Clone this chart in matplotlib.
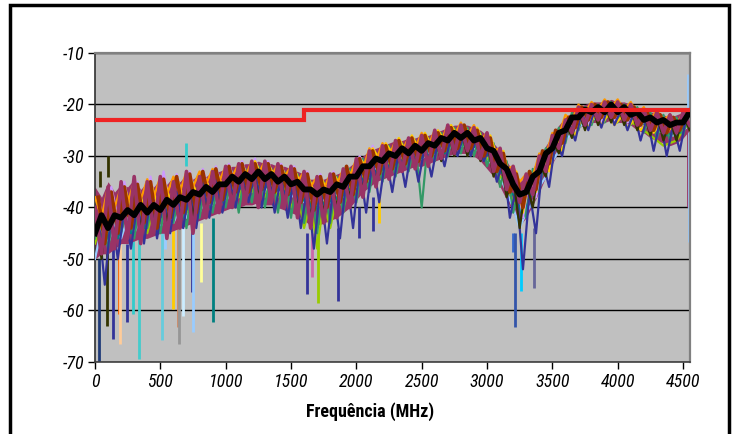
import numpy as np
import matplotlib
matplotlib.use('Agg')
import matplotlib.pyplot as plt
from matplotlib.patches import Rectangle

plt.rcParams['axes.unicode_minus'] = False
plt.rcParams['font.family'] = ['Roboto Condensed', 'Roboto', 'Liberation Sans', 'DejaVu Sans']

# ---------------- data (dB vs MHz) ----------------
freq_a = np.arange(0, 4551, 50)     # 92 samples
freq_b = np.arange(25, 4526, 50)    # 91 samples

mean_db = [
    -45, -41.5, -44, -41.5, -42, -40.5, -41.5, -39.5, -41, -39.5,
    -40.5, -38.5, -39.5, -38, -38.5, -37, -37.5, -36, -37, -35.5,
    -35.5, -34, -35, -33.5, -34.5, -33, -34.5, -33.5, -35, -34,
    -35.5, -35, -36.5, -36.5, -37.5, -36.5, -37, -35.5, -36, -34,
    -34, -32, -32, -30.5, -31, -29.5, -30, -28.5, -29.5, -28,
    -29, -27.5, -28, -26.5, -27, -25.5, -26.5, -25.5, -27, -26.5,
    -28.5, -29, -31.5, -32.5, -35.5, -37.5, -37, -34, -33, -29.5,
    -28.5, -25.5, -25, -22.5, -22.5, -21, -21.5, -20.5, -21.5, -20,
    -21.5, -20.5, -22, -21.5, -23, -22.5, -23.5, -23, -24, -23.5,
    -23.5, -21.5]

# dense core of the overlapping traces (upper / lower edge)
band_top_db = [
    -36, -38, -35, -37, -35.5, -36, -34.5, -36.5, -35, -36,
    -34.5, -35.5, -34, -35, -33.5, -34.5, -33.5, -34, -33, -33,
    -32.5, -32, -32, -31.5, -31.5, -31, -31.5, -31.5, -32, -32,
    -32.5, -33, -33.5, -34.5, -34.5, -34.5, -34, -33.5, -33, -32,
    -31, -30, -29, -28.5, -28, -27.5, -27, -27, -26.5, -26.5,
    -26, -26, -25.5, -25, -24.5, -24, -24, -24, -24.5, -25,
    -26, -27.5, -29, -31, -33, -35, -34, -32.5, -30, -28,
    -26, -24, -22.5, -21.5, -20.5, -20, -19.5, -19.5, -19.5, -19,
    -19.5, -19.5, -20, -20.5, -21, -21.5, -21.5, -22, -22.5, -22,
    -21.5, -20.5]

band_bot_db = [
    -50, -49, -49, -48, -47, -47, -46.5, -46, -46, -45.5,
    -45, -45, -44.5, -44, -43.5, -43, -42.5, -42, -41.5, -41,
    -40.5, -40, -40, -39.5, -39.5, -39, -39.5, -39.5, -40, -40.5,
    -41, -41.5, -42.5, -43.5, -43.5, -43, -42.5, -42, -41, -40,
    -38.5, -37, -36, -35, -34.5, -34, -33.5, -33, -32.5, -32,
    -32, -31.5, -31, -30.5, -30, -29.5, -29.5, -29.5, -30, -31,
    -32.5, -34, -36, -38.5, -41, -43.5, -42, -39.5, -37, -34,
    -31.5, -29, -27, -25.5, -24.5, -24, -23.5, -23.5, -23.5, -23,
    -23.5, -23.5, -24, -25, -25.5, -26.5, -27, -27.5, -28, -27.5,
    -26.5, -25]

magenta_db = [
    -40, -49, -36, -48, -35, -46, -34, -47, -35, -45,
    -34, -46, -35, -44, -33, -45, -34, -42, -33, -41,
    -32, -40, -31.5, -39, -31, -40, -31, -39, -31.5, -40,
    -32, -42, -33, -44, -34, -43, -33.5, -42, -32.5, -40,
    -30.5, -38, -29, -36, -28, -34.5, -27, -33, -26.5, -32.5,
    -26, -32, -25, -30.5, -24, -29.5, -24, -29, -24.5, -30.5,
    -25.5, -33, -28.5, -36.5, -32, -39, -33.5, -37.5, -30, -33,
    -26, -28.5, -23, -25.5, -20.5, -24, -20, -23, -19.5, -22.5,
    -19.5, -23, -20, -24, -21, -25, -21.5, -25.5, -22, -25.5,
    -21.5, -24]

brown_db = [
    -38, -47, -37, -45, -36, -44, -35.5, -43, -35, -44,
    -34.5, -42, -34, -41, -33.5, -41, -33, -39, -32.5, -38.5,
    -32, -37, -31.5, -37, -31.5, -36.5, -31.5, -37, -32, -37.5,
    -32.5, -39, -33.5, -40.5, -34, -40, -33.5, -39, -32, -37.5,
    -30.5, -35, -29, -33.5, -28, -32.5, -27, -31.5, -26.5, -31,
    -26, -30, -25.5, -29, -24.5, -28.5, -24, -28.5, -25, -30,
    -26.5, -33, -29.5, -37, -33.5, -40, -33, -36.5, -29, -31.5,
    -25, -27.5, -22.5, -24.5, -20.5, -23, -20, -22.5, -19.5, -22.5,
    -20, -23, -20.5, -24, -21.5, -25, -22, -25.5, -22.5, -25,
    -21.5]

olive_db = [
    -40, -50, -38, -47, -37, -45, -37, -44, -36, -45,
    -36, -43, -36, -44, -34, -42, -34, -41, -33, -40,
    -32.5, -39, -32, -38, -31.5, -38, -32, -39, -32, -39,
    -33, -40, -34, -42, -35, -41, -34, -40, -33, -38,
    -31.5, -36.5, -30, -35, -28.5, -34, -28, -33, -27, -32,
    -27, -31.5, -26, -31, -25, -30, -24.5, -30, -25, -31,
    -27, -34, -30, -38, -34, -44, -35, -40, -31.5, -34,
    -27, -29.5, -23.5, -26.5, -21, -25, -20, -24, -20, -23.5,
    -20, -24, -20.5, -25, -21.5, -26, -22, -27, -23, -27,
    -22, -25]

navy_db = [
    -42, -55, -41, -50, -40, -48, -39, -47, -38, -46,
    -38, -45, -37, -44, -36, -44, -35, -42, -34.5, -41,
    -34, -40, -33.5, -39, -33, -40, -33, -41, -34, -42,
    -34, -44, -36, -48, -36, -47, -36, -46, -34, -44,
    -32, -41, -30.5, -39, -30, -37, -29, -36, -28, -35,
    -28, -34, -27, -32, -26, -30, -25.5, -30, -26, -31,
    -28, -35, -31, -42, -36, -52, -37, -45, -31, -36,
    -27, -30, -23.5, -27, -21.5, -25, -21, -24.5, -20.5, -24,
    -21, -25, -21.5, -27, -22.5, -29, -23, -30, -24, -29,
    -22.5]

seagreen_db = [
    -46, -41, -48, -40, -45, -39, -46, -38, -44, -38,
    -45, -37, -43, -36.5, -44, -35, -42, -34.5, -41, -34,
    -40, -33, -41, -32.5, -39, -32, -40, -32.5, -41, -33,
    -42, -33.5, -43, -35, -45, -35, -43, -34, -41, -32.5,
    -39, -30.5, -37, -29.5, -35, -28, -34, -27.5, -33, -27,
    -40, -26.5, -31, -25.5, -30, -24.5, -29.5, -24.5, -30, -25.5,
    -32, -27.5, -36, -31, -41, -36, -42, -32.5, -37, -28.5,
    -31, -24.5, -27.5, -21.5, -25, -20.5, -24, -20, -23.5, -19.5,
    -23.5, -20, -24, -20.5, -25.5, -21.5, -26.5, -22, -27, -22.5,
    -26, -21]

lavender_db = [
    -38, -44, -36, -42, -35, -42, -35, -41, -34, -41,
    -33, -40, -33.5, -39, -33, -38, -32.5, -37, -32, -36.5,
    -31.5, -35.5, -31, -35, -30.5, -35, -31, -35, -31.5, -36,
    -32, -37, -33, -38, -33.5, -38, -33, -37, -32, -35,
    -30, -33, -28, -32, -27.5, -31, -27, -30, -26.5, -30,
    -26, -29, -25, -28, -24.5, -27, -24.5, -27.5, -25, -28.5,
    -26.5, -31.5, -29.5, -36, -33.5, -42, -34, -38, -29.5, -33,
    -25.5, -28, -22.5, -25, -21, -24, -20.5, -23.5, -20.5, -23,
    -20.5, -23.5, -21, -24.5, -21.5, -25, -22.5, -25.5, -23, -25,
    -22]

orange_db = [
    -38, -42, -36, -40, -36, -39, -35, -38.5, -34.5, -38,
    -34, -37.5, -34, -37, -33, -36, -33, -35.5, -32.5, -35,
    -32, -34, -31.5, -34, -31, -33.5, -31, -34, -31.5, -34,
    -32, -35, -33, -36, -34, -36.5, -33.5, -35.5, -32.5, -34,
    -30.5, -32.5, -28.5, -31, -27.5, -30, -27, -29, -26.5, -28.5,
    -25.5, -28, -25, -27, -24, -26, -23.5, -26, -24, -27,
    -25.5, -29, -28.5, -32.5, -32, -35, -33.5, -34, -29.5, -30,
    -25.5, -26, -22, -23, -20, -21.5, -19.5, -21, -19, -20.5,
    -19, -21, -19.5, -22, -20.5, -23, -21, -23, -22, -24,
    -21.5, -22]

yellow_db = [
    -39, -43, -38, -42, -36, -40, -36, -40, -35, -39,
    -34.5, -38.5, -34, -38, -34, -37, -33.5, -36, -33, -35.5,
    -32.5, -35, -31.5, -34.5, -31, -34, -31.5, -34, -32, -35,
    -32.5, -35.5, -33.5, -37, -34, -36.5, -33.5, -35.5, -32.5, -34,
    -30.5, -32, -28.5, -30.5, -27.5, -29.5, -26.5, -29, -26, -28.5,
    -25.5, -28, -25, -27, -24, -26, -24, -26.5, -24.5, -27.5,
    -26, -30, -29, -35, -33, -41, -33, -37, -29, -33,
    -26, -29, -24, -26, -22.5, -24.5, -22, -24, -22, -24,
    -22.5, -24.5, -23, -25, -23.5, -25.5, -23.5, -25.5, -24, -24.5,
    -22.5]

yellowgreen_db = [
    -47, -43, -45, -42, -44, -41, -44, -41, -45, -40,
    -43, -40, -42, -39, -41, -38, -40, -37, -39, -36.5,
    -38, -36, -38, -35, -37, -35, -38, -35, -38, -36,
    -40, -37, -44, -39, -48, -39, -44, -38, -40, -36,
    -37, -34, -35, -33, -33, -31.5, -32, -30.5, -31, -30,
    -30.5, -29, -29, -28, -28, -27.5, -27.5, -27.5, -28, -28.5,
    -30.5, -31.5, -34, -35.5, -39, -40, -39, -36.5, -34.5, -31.5,
    -29.5, -27, -25.5, -24.5, -23.5, -22.5, -22.5, -22, -22.5, -22,
    -22.5, -22.5, -23.5, -24, -25, -26, -27, -28, -27.5, -27,
    -25, -23.5]

teal_db = [
    -44, -47, -44, -46, -42, -45, -42, -44, -41, -43,
    -41, -42, -40, -42, -39, -41, -38, -40, -37.5, -39,
    -36, -38, -35.5, -37, -35, -37, -35.5, -37, -36, -38,
    -36.5, -39, -38, -41, -38.5, -40, -37.5, -39, -36, -37,
    -34, -35, -32.5, -33.5, -31.5, -32.5, -30.5, -31.5, -30, -31,
    -29.5, -30, -28.5, -29.5, -27.5, -28.5, -27, -28.5, -28, -29.5,
    -30, -32.5, -33.5, -37, -38, -42, -38, -37, -33, -32,
    -28, -27.5, -24.5, -24.5, -22.5, -23, -22, -22.5, -21.5, -22.5,
    -22, -23, -22.5, -24, -23.5, -25, -24.5, -26, -25.5, -25.5,
    -23]

lightblue_db = [
    -50, -44, -47, -43, -46, -42, -45, -42, -44, -41,
    -44, -40, -43, -40, -42, -39, -41, -38, -40, -37,
    -39, -36, -38, -35.5, -37, -35, -37, -35.5, -37.5, -36,
    -38, -37, -39, -38.5, -40, -38.5, -39, -37.5, -38, -36,
    -36, -34, -34, -32.5, -32.5, -31.5, -31.5, -30.5, -31, -30,
    -30.5, -29.5, -29.5, -28.5, -28.5, -28, -28, -28, -28.5, -29,
    -30.5, -32, -34, -37, -40, -44, -41, -39, -36, -34,
    -31, -29, -27, -25.5, -24.5, -23.5, -23, -22.5, -22.5, -22,
    -22.5, -22.5, -23, -23.5, -24, -24.5, -25, -25.5, -26, -26,
    -25, -24]

# isolated deep / tall spikes: frequency, start level, end level, colour
spike_freq = [30, 90, 135, 185, 190, 245, 290, 335, 513, 535, 597, 633, 645, 672,
              740, 750, 812, 900, 1620, 1660, 1707, 1857, 2020, 2130, 2170,
              3200, 3215, 3260, 3360, 4535, 4545, 4540, 700, 100, 40]
spike_from = [-50, -48, -48, -47, -47, -47, -46, -46, -44, -44, -44, -44, -44, -44,
              -44, -44, -43, -42, -45, -45, -45, -44, -40, -38, -38,
              -45, -45, -45, -44, -24, -25, -22, -32, -34, -36]
spike_to = [-70, -63, -65.5, -60.7, -66.5, -62.3, -60.7, -69.4, -65.8, -48, -59.7, -63.2, -66.5, -61,
            -56.4, -64.2, -54.5, -62.2, -56.8, -53.5, -58.5, -58.2, -46, -44.5, -43,
            -48.6, -63.3, -56.2, -55.6, -40, -46.7, -14, -27.5, -30, -33]
spike_color = ['#1F3A78', '#333300', '#333399', '#FF6600', '#FFCC99', '#333399', '#33CCCC',
               '#44CCCC', '#66CCDD', '#99CCFF', '#FFCC00', '#CC8866', '#969696', '#CCECFF',
               '#333399', '#99CCFF', '#FFFF99', '#008080', '#333399', '#CC66AA', '#99CC00',
               '#333399', '#333399', '#333399', '#FFCC00', '#3366CC', '#3355AA', '#00CCFF',
               '#666699', '#993366', '#99CCFF', '#99CCFF', '#33CCCC', '#333300', '#333300']

limit_freq = [0, 1600, 1600, 4550]
limit_db = [-23, -23, -21, -21]

x_ticks = [0, 500, 1000, 1500, 2000, 2500, 3000, 3500, 4000, 4500]
y_ticks = [-70, -60, -50, -40, -30, -20, -10]

# ---------------- figure ----------------
fig = plt.figure(figsize=(7.34, 4.34), dpi=100)
ax = fig.add_axes([0.1294, 0.1659, 0.8106, 0.7120])
ax.set_facecolor('#C0C0C0')

ax.vlines(spike_freq, spike_from, spike_to, colors=spike_color, linewidth=2.0, zorder=2)

ax.fill_between(freq_a[:len(band_top_db)], band_top_db, band_bot_db,
                color='#993366', linewidth=0, zorder=2.5)

series = [
    (freq_a, lightblue_db, '#99CCFF'),
    (freq_a, yellowgreen_db, '#99CC00'),
    (freq_b, teal_db, '#008080'),
    (freq_a, seagreen_db, '#339966'),
    (freq_b, lavender_db, '#CC99FF'),
    (freq_b, yellow_db, '#FFCC00'),
    (freq_a, orange_db, '#FF9900'),
    (freq_b, navy_db, '#333399'),
    (freq_a, olive_db, '#333300'),
]
for f, v, c in series:
    n = min(len(f), len(v))
    ax.plot(f[:n], v[:n], color=c, linewidth=1.6, zorder=3)

for f, v, c in [(freq_b, brown_db, '#993300'), (freq_a, magenta_db, '#993366')]:
    n = min(len(f), len(v))
    ax.plot(f[:n], v[:n], color=c, linewidth=2.6, zorder=3.4)

n = min(len(freq_a), len(mean_db))
ax.plot(freq_a[:n], mean_db[:n], color='black', linewidth=4.2, zorder=4)
ax.plot(limit_freq, limit_db, color='#EE2222', linewidth=3.0, zorder=5,
        solid_joinstyle='miter')

ax.set_xlim(0, 4553)
ax.set_ylim(-70, -10)
ax.set_xticks(x_ticks)
ax.set_xticklabels([str(t) for t in x_ticks])
ax.set_yticks(y_ticks)
ax.set_yticklabels([str(t) for t in y_ticks])
ax.tick_params(axis='both', direction='out', length=5, width=1, color='black',
               pad=3, labelsize=13)
for lab in ax.get_xticklabels() + ax.get_yticklabels():
    lab.set_fontstyle('italic')

ax.yaxis.grid(True, color='black', linewidth=1.0)
ax.set_axisbelow(True)

ax.spines['top'].set_color('#808080')
ax.spines['right'].set_color('#808080')
ax.spines['top'].set_linewidth(1.6)
ax.spines['right'].set_linewidth(1.6)
ax.spines['left'].set_color('#303030')
ax.spines['bottom'].set_color('#404040')
ax.spines['left'].set_linewidth(1.2)
ax.spines['bottom'].set_linewidth(1.2)

fig.text(370 / 734, 1 - 412 / 434, 'Frequência (MHz)', ha='center', va='center',
         fontsize=13, fontweight='bold', fontstyle='normal')

fig.patches.append(Rectangle((10 / 734, -0.02), 719 / 734, 1 - 5 / 434 + 0.02,
                             transform=fig.transFigure, fill=False,
                             edgecolor='black', linewidth=2.5, zorder=10))

fig.savefig('out.png', dpi=100)
